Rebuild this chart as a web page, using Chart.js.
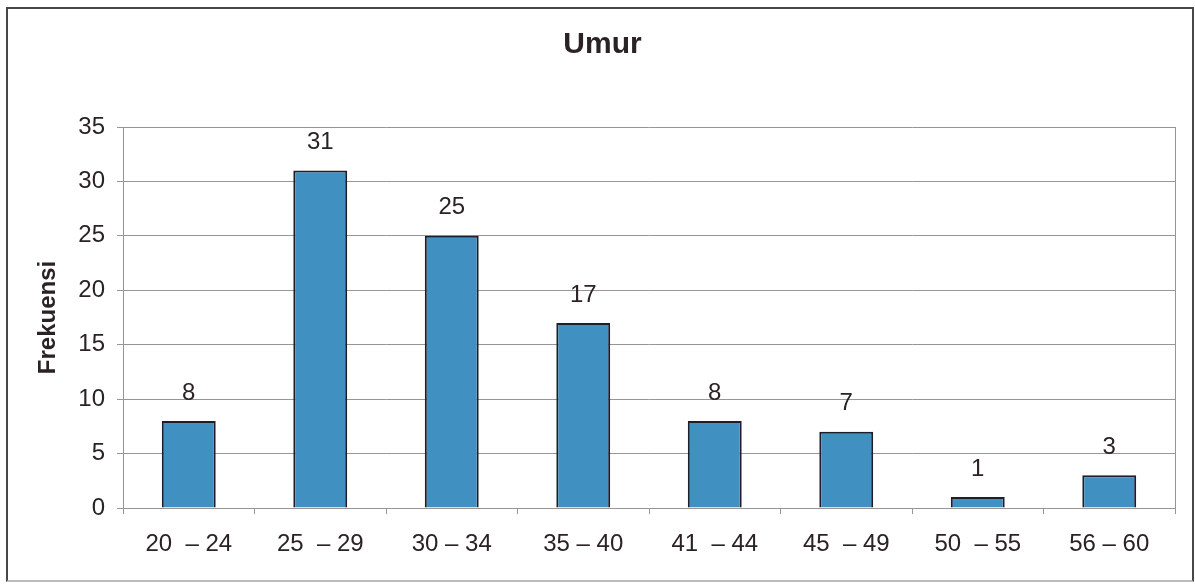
<!DOCTYPE html>
<html lang="id">
<head>
  <meta charset="UTF-8" />
  <title>Umur</title>
  <script src="https://cdn.jsdelivr.net/npm/chart.js"></script>
  <style>
    html, body { margin: 0; padding: 0; background: #fff; }
    .frame {
      position: absolute; left: 6px; top: 7px; width: 1184px; height: 571px;
      border: 2px solid #4a4547; border-bottom-color: #bbb;
    }
    .wrap { position: absolute; left: 0; top: 0; width: 1195px; height: 586px; }
  </style>
</head>
<body>
  <div class="frame"></div>
  <div class="wrap"><canvas id="umurChart"></canvas></div>

  <script>
    // data
    const categories = ["20  \u2013 24", "25  \u2013 29", "30 \u2013 34", "35 \u2013 40", "41  \u2013 44", "45  \u2013 49", "50  \u2013 55", "56 \u2013 60"];
    const frekuensi = [8, 31, 25, 17, 8, 7, 1, 3];
    const yTicks = [0, 5, 10, 15, 20, 25, 30, 35];

    const textColor = "#2b2226";
    const gridColor = "#9c9396";
    const fontFamily = "'Liberation Sans', Arial, sans-serif";

    // value labels above each bar
    const valueLabels = {
      id: "valueLabels",
      afterDatasetsDraw(chart) {
        const ctx = chart.ctx;
        const meta = chart.getDatasetMeta(0);
        ctx.save();
        ctx.font = "24px " + fontFamily;
        ctx.fillStyle = textColor;
        ctx.textAlign = "center";
        ctx.textBaseline = "middle";
        meta.data.forEach((bar, i) => {
          ctx.fillText(String(frekuensi[i]), bar.x, bar.y - 28);
        });
        ctx.restore();
      }
    };

    // frame round the plot area (right edge)
    const plotFrame = {
      id: "plotFrame",
      beforeDatasetsDraw(chart) {
        const a = chart.chartArea;
        const ctx = chart.ctx;
        ctx.save();
        ctx.strokeStyle = gridColor;
        ctx.lineWidth = 1;
        ctx.beginPath();
        ctx.moveTo(Math.round(a.right) + 0.5, a.top);
        ctx.lineTo(Math.round(a.right) + 0.5, a.bottom);
        ctx.stroke();
        ctx.restore();
      }
    };

    new Chart(document.getElementById("umurChart"), {
      type: "bar",
      data: {
        labels: categories,
        datasets: [{
          label: "Frekuensi",
          data: frekuensi,
          backgroundColor: "#4090c2",
          borderColor: "#1d1d2b",
          borderWidth: 2,
          categoryPercentage: 1,
          barPercentage: 0.41
        }]
      },
      options: {
        responsive: true,
        maintainAspectRatio: false,
        animation: false,
        layout: { padding: { left: 30, right: 20, top: 8, bottom: 0 } },
        plugins: {
          legend: { display: false },
          tooltip: { enabled: false },
          title: {
            display: true,
            text: "Umur",
            color: textColor,
            font: { family: fontFamily, size: 30, weight: "bold" },
            padding: { top: 19, bottom: 64 }
          }
        },
        scales: {
          x: {
            offset: true,
            grid: {
              display: true,
              offset: true,
              drawOnChartArea: false,
              tickLength: 6,
              color: gridColor
            },
            border: { color: gridColor, width: 1 },
            ticks: {
              color: textColor,
              padding: 16,
              maxRotation: 0,
              font: { family: fontFamily, size: 24 }
            },
            afterFit(scale) { scale.height = 78; }
          },
          y: {
            min: 0,
            max: 35,
            afterBuildTicks(scale) { scale.ticks = yTicks.map(v => ({ value: v })); },
            grid: { color: gridColor, tickLength: 6 },
            border: { color: gridColor, width: 1 },
            ticks: {
              color: textColor,
              padding: 12,
              font: { family: fontFamily, size: 24 }
            },
            title: {
              display: true,
              text: "Frekuensi",
              color: textColor,
              font: { family: fontFamily, size: 24, weight: "bold" }
            },
            afterFit(scale) { scale.width = 93; }
          }
        }
      },
      plugins: [valueLabels, plotFrame]
    });
  </script>
</body>
</html>
